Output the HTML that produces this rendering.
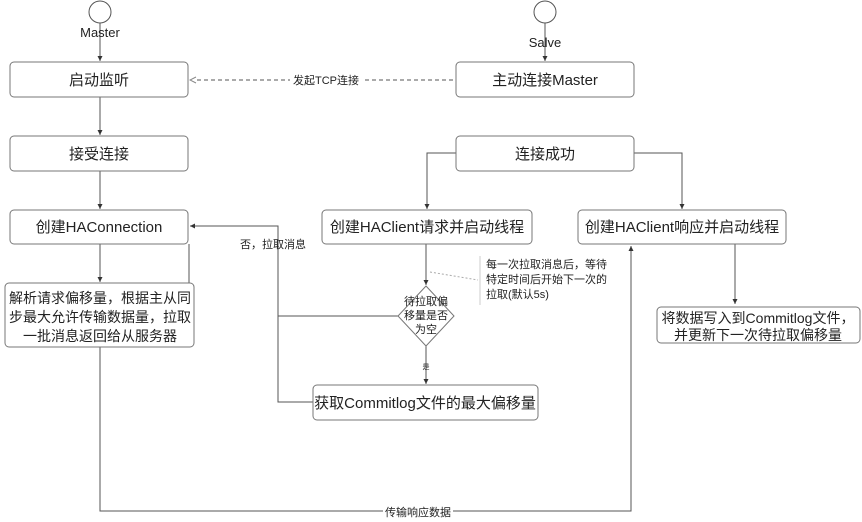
<!DOCTYPE html>
<html><head><meta charset="utf-8"><style>
html,body{margin:0;padding:0;background:#fff;}
svg{display:block;}
text{font-family:"Liberation Sans","Noto Sans CJK SC",sans-serif;fill:#222;}
</style></head><body>
<svg width="862" height="522" viewBox="0 0 862 522" xmlns="http://www.w3.org/2000/svg">
<defs>
<marker id="a" markerWidth="6" markerHeight="6" refX="5" refY="3" orient="auto"><path d="M0,0.5 L5,3 L0,5.5 z" fill="#333"/></marker>
<marker id="o" markerWidth="8" markerHeight="8" refX="1" refY="4" orient="auto"><path d="M7,1 L1,4 L7,7" fill="#fff" stroke="#888"/></marker>
</defs>
<g fill="none" stroke="#555" stroke-width="1">
<circle cx="100" cy="12" r="11"/>
<circle cx="545" cy="12" r="11"/>
<line x1="100" y1="23" x2="100" y2="61" marker-end="url(#a)"/>
<line x1="545" y1="23" x2="545" y2="61" marker-end="url(#a)"/>
<line x1="100" y1="97" x2="100" y2="135" marker-end="url(#a)"/>
<line x1="100" y1="171" x2="100" y2="209" marker-end="url(#a)"/>
<line x1="100" y1="244" x2="100" y2="282" marker-end="url(#a)"/>
<line x1="189" y1="244" x2="189" y2="306"/>
<line x1="190" y1="80" x2="455" y2="80" stroke-dasharray="4,3" marker-start="url(#o)"/>
<path d="M456,153 H427 V209" marker-end="url(#a)"/>
<path d="M634,153 H682 V209" marker-end="url(#a)"/>
<line x1="426" y1="244" x2="426" y2="285" marker-end="url(#a)"/>
<line x1="426" y1="346" x2="426" y2="384" marker-end="url(#a)"/>
<path d="M398,316 H278"/>
<path d="M313,402 H278 V226 H190" marker-end="url(#a)"/>
<line x1="735" y1="244" x2="735" y2="304" marker-end="url(#a)"/>
<path d="M100,347 V511 H631 V246" marker-end="url(#a)"/>
<line x1="430" y1="272" x2="478" y2="280" stroke="#aaa" stroke-dasharray="2,2"/>
<path d="M480,256 V305" stroke="#ccc"/>
</g>
<g fill="#fff" stroke="#777" stroke-width="1">
<rect x="10" y="62" width="178" height="35" rx="4"/>
<rect x="10" y="136" width="178" height="35" rx="4"/>
<rect x="10" y="210" width="178" height="34" rx="4"/>
<rect x="5" y="283" width="189" height="64" rx="4"/>
<rect x="456" y="62" width="178" height="35" rx="4"/>
<rect x="456" y="136" width="178" height="35" rx="4"/>
<rect x="322" y="210" width="210" height="34" rx="4"/>
<rect x="578" y="210" width="208" height="34" rx="4"/>
<rect x="313" y="385" width="225" height="35" rx="4"/>
<rect x="657" y="307" width="203" height="36" rx="4"/>
<path d="M426,286 L454,316 L426,346 L398,316 Z"/>
</g>
<rect x="290" y="73" width="72" height="14" fill="#fff"/>
<rect x="383" y="504" width="70" height="14" fill="#fff"/>
<g font-size="13" text-anchor="middle">
<text x="100" y="37">Master</text>
<text x="545" y="47">Salve</text>
</g>
<g font-size="15" text-anchor="middle">
<text x="99" y="85">启动监听</text>
<text x="99" y="159">接受连接</text>
<text x="99" y="232">创建HAConnection</text>
<text x="545" y="85">主动连接Master</text>
<text x="545" y="159">连接成功</text>
<text x="427" y="232">创建HAClient请求并启动线程</text>
<text x="682" y="232">创建HAClient响应并启动线程</text>
<text x="425" y="408">获取Commitlog文件的最大偏移量</text>
</g>
<g font-size="14" text-anchor="middle">
<text x="100" y="303">解析请求偏移量，根据主从同</text>
<text x="100" y="322">步最大允许传输数据量，拉取</text>
<text x="100" y="341">一批消息返回给从服务器</text>
<text x="758" y="323">将数据写入到Commitlog文件，</text>
<text x="758" y="340">并更新下一次待拉取偏移量</text>
</g>
<g font-size="11" text-anchor="middle">
<text x="326" y="84">发起TCP连接</text>
<text x="418" y="516">传输响应数据</text>
<text x="273" y="248">否，拉取消息</text>
<text x="426" y="305">待拉取偏</text>
<text x="426" y="319">移量是否</text>
<text x="426" y="333">为空</text>
</g>
<text x="426" y="369" font-size="7" text-anchor="middle">是</text>
<g font-size="11">
<text x="486" y="268">每一次拉取消息后，等待</text>
<text x="486" y="283">特定时间后开始下一次的</text>
<text x="486" y="298">拉取(默认5s)</text>
</g>
</svg>
</body></html>
